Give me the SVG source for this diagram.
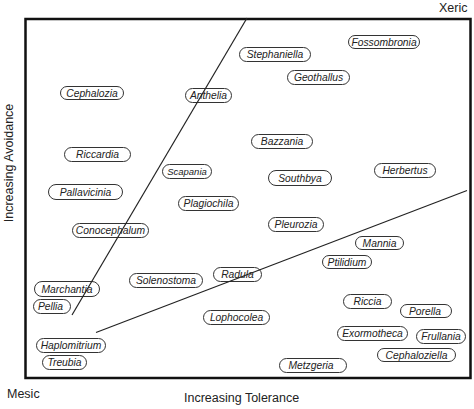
<svg xmlns="http://www.w3.org/2000/svg" width="474" height="409" viewBox="0 0 474 409">
<style>
.pill{fill:#fff;stroke:#333;stroke-width:1}
.lbl{font-family:"Liberation Sans",Arial,sans-serif;font-style:italic;font-size:10.3px;fill:#222;text-anchor:middle}
.ax{font-family:"Liberation Sans",Arial,sans-serif;font-size:12.5px;fill:#222}
.ln{stroke:#222;stroke-width:1.2;fill:none}
</style>
<rect x="0" y="0" width="474" height="409" fill="#fff"/>
<rect x="25.5" y="19" width="445" height="359" fill="none" stroke="#111" stroke-width="2.5"/>
<text class="ax" x="439" y="12">Xeric</text>
<text class="ax" x="7" y="398">Mesic</text>
<text class="ax" x="184" y="402">Increasing Tolerance</text>
<text class="ax" transform="translate(13,163) rotate(-90)" text-anchor="middle">Increasing Avoidance</text>
<g id="nodes">
<g id="Fossombronia"><rect class="pill" x="348.5" y="35.5" width="71" height="13" rx="6.5"/><text class="lbl" x="384" y="45.5">Fossombronia</text></g>
<g id="Stephaniella"><rect class="pill" x="239.5" y="47.5" width="71" height="14" rx="7"/><text class="lbl" x="275" y="58">Stephaniella</text></g>
<g id="Geothallus"><rect class="pill" x="287.5" y="70.5" width="62" height="14" rx="7"/><text class="lbl" x="318.5" y="81">Geothallus</text></g>
<g id="Cephalozia"><rect class="pill" x="60.5" y="86.5" width="63" height="13" rx="6.5"/><text class="lbl" x="92" y="96.5">Cephalozia</text></g>
<g id="Anthelia"><rect class="pill" x="185.5" y="88.5" width="46" height="14" rx="7"/><text class="lbl" x="208.5" y="99">Anthelia</text></g>
<g id="Bazzania"><rect class="pill" x="251.5" y="134.5" width="61" height="14" rx="7"/><text class="lbl" x="282" y="145">Bazzania</text></g>
<g id="Riccardia"><rect class="pill" x="64.5" y="147.5" width="66" height="14" rx="7"/><text class="lbl" x="97.5" y="158">Riccardia</text></g>
<g id="Herbertus"><rect class="pill" x="374.5" y="163.5" width="61" height="14" rx="7"/><text class="lbl" x="405" y="174">Herbertus</text></g>
<g id="Scapania"><rect class="pill" x="162.5" y="164.5" width="49" height="14" rx="7"/><text class="lbl" x="187" y="175" style="font-size:9.5px">Scapania</text></g>
<g id="Southbya"><rect class="pill" x="268.5" y="170.5" width="63" height="15" rx="7.5"/><text class="lbl" x="300" y="181.5">Southbya</text></g>
<g id="Pallavicinia"><rect class="pill" x="48.5" y="184.5" width="74" height="15" rx="7.5"/><text class="lbl" x="85.5" y="195.5">Pallavicinia</text></g>
<g id="Plagiochila"><rect class="pill" x="178.5" y="196.5" width="60" height="14" rx="7"/><text class="lbl" x="208.5" y="207">Plagiochila</text></g>
<g id="Pleurozia"><rect class="pill" x="268.5" y="217.5" width="55" height="14" rx="7"/><text class="lbl" x="296" y="228">Pleurozia</text></g>
<g id="Conocephalum"><rect class="pill" x="72.5" y="223.5" width="76" height="14" rx="7"/><text class="lbl" x="110.5" y="234">Conocephalum</text></g>
<g id="Mannia"><rect class="pill" x="355.5" y="236.5" width="48" height="13" rx="6.5"/><text class="lbl" x="379.5" y="246.5">Mannia</text></g>
<g id="Ptilidium"><rect class="pill" x="322.5" y="255.5" width="49" height="13" rx="6.5"/><text class="lbl" x="347" y="265.5">Ptilidium</text></g>
<g id="Radula"><rect class="pill" x="213.5" y="267.5" width="48" height="14" rx="7"/><text class="lbl" x="237.5" y="278">Radula</text></g>
<g id="Solenostoma"><rect class="pill" x="129.5" y="273.5" width="73" height="14" rx="7"/><text class="lbl" x="166" y="284">Solenostoma</text></g>
<g id="Marchantia"><rect class="pill" x="34.5" y="281.5" width="65" height="15" rx="7.5"/><text class="lbl" x="67" y="292.5">Marchantia</text></g>
<g id="Riccia"><rect class="pill" x="343.5" y="294.5" width="48" height="14" rx="7"/><text class="lbl" x="367.5" y="305">Riccia</text></g>
<g id="Pellia"><rect class="pill" x="33.5" y="299.5" width="37" height="14" rx="7"/><text class="lbl" x="50.5" y="310">Pellia</text></g>
<g id="Porella"><rect class="pill" x="400.5" y="304.5" width="51" height="13" rx="6.5"/><text class="lbl" x="425" y="314.5">Porella</text></g>
<g id="Lophocolea"><rect class="pill" x="203.5" y="310.5" width="66" height="14" rx="7"/><text class="lbl" x="236.5" y="321">Lophocolea</text></g>
<g id="Exormotheca"><rect class="pill" x="337.5" y="326.5" width="70" height="14" rx="7"/><text class="lbl" x="372.5" y="337">Exormotheca</text></g>
<g id="Frullania"><rect class="pill" x="416.5" y="329.5" width="49" height="14" rx="7"/><text class="lbl" x="441" y="340">Frullania</text></g>
<g id="Haplomitrium"><rect class="pill" x="36.5" y="338.5" width="69" height="14" rx="7"/><text class="lbl" x="71" y="349">Haplomitrium</text></g>
<g id="Cephaloziella"><rect class="pill" x="377.5" y="348.5" width="78" height="13" rx="6.5"/><text class="lbl" x="416.5" y="358.5">Cephaloziella</text></g>
<g id="Treubia"><rect class="pill" x="42.5" y="355.5" width="44" height="14" rx="7"/><text class="lbl" x="64.5" y="366">Treubia</text></g>
<g id="Metzgeria"><rect class="pill" x="279.5" y="358.5" width="67" height="14" rx="7"/><text class="lbl" x="311" y="369">Metzgeria</text></g>
</g>
<g id="connectors">
<line class="ln" x1="247" y1="18" x2="72" y2="315"/>
<line class="ln" x1="96" y1="332.5" x2="467" y2="190.5"/>
</g>
</svg>
